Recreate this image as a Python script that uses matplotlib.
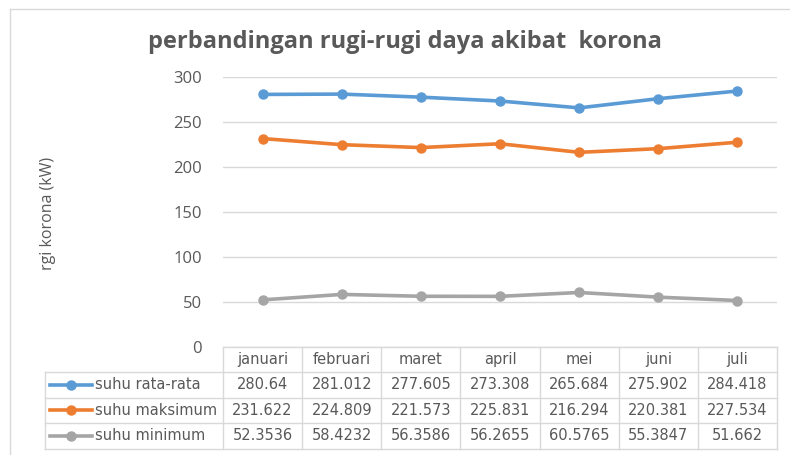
import matplotlib.pyplot as plt
from matplotlib.lines import Line2D

bulan = ['januari', 'februari', 'maret', 'april', 'mei', 'juni', 'juli']
rata = [280.64, 281.012, 277.605, 273.308, 265.684, 275.902, 284.418]
maks = [231.622, 224.809, 221.573, 225.831, 216.294, 220.381, 227.534]
mini = [52.3536, 58.4232, 56.3586, 56.2655, 60.5765, 55.3847, 51.662]
rata_txt = ['280.64', '281.012', '277.605', '273.308', '265.684', '275.902', '284.418']
maks_txt = ['231.622', '224.809', '221.573', '225.831', '216.294', '220.381', '227.534']
mini_txt = ['52.3536', '58.4232', '56.3586', '56.2655', '60.5765', '55.3847', '51.662']
nama = ['suhu rata-rata', 'suhu maksimum', 'suhu minimum']
warna = ['#5B9BD5', '#ED7D31', '#A5A5A5']

plt.rcParams['font.family'] = ['Open Sans', 'DejaVu Sans']
txtc = '#595959'
gridc = '#D9D9D9'
tabfont = 'DejaVu Sans'

W, H = 790, 455
fig = plt.figure(figsize=(W / 100, H / 100), dpi=100)

def fx(x):
    return x / W

def fy(y):
    return 1 - y / H

# chart border (left and top edges visible)
fig.add_artist(Line2D([fx(10), fx(10)], [fy(9), fy(455)], color=gridc, lw=1))
fig.add_artist(Line2D([fx(10), fx(790)], [fy(9), fy(9)], color=gridc, lw=1))

x0, x1, ytop, ybot = 223, 777, 77, 347
ax = fig.add_axes([fx(x0), fy(ybot), fx(x1) - fx(x0), fy(ytop) - fy(ybot)])
xs = range(len(bulan))
for vals, c in zip([rata, maks, mini], warna):
    ax.plot(xs, vals, color=c, lw=2.6, marker='o', ms=6.5, clip_on=False)
ax.set_xlim(-0.5, len(bulan) - 0.5)
ax.set_ylim(0, 300)
ax.set_yticks(range(0, 301, 50))
ax.set_xticks([])
ax.grid(axis='y', color=gridc, lw=1)
ax.set_axisbelow(True)
for s in ax.spines.values():
    s.set_visible(False)
ax.tick_params(axis='y', length=0, pad=15, labelsize=12, labelcolor=txtc)
fig.text(fx(48), fy(213), 'rgi korona (kW)', rotation=90, ha='center', va='center',
         fontsize=11.5, color=txtc)

fig.text(fx(405), fy(42), 'perbandingan rugi-rugi daya akibat  korona', ha='center',
         va='center', fontsize=17, fontweight='bold', color=txtc)

# data table
rows_y = [347, 372, 397.5, 423, 449]
colw = (x1 - x0) / len(bulan)
cols_x = [x0 + i * colw for i in range(len(bulan) + 1)]
lx = 45
tc = '#D9D9D9'
# horizontal lines
fig.add_artist(Line2D([fx(x0), fx(x1)], [fy(rows_y[0])] * 2, color=tc, lw=1))
for y in rows_y[1:]:
    fig.add_artist(Line2D([fx(lx), fx(x1)], [fy(y)] * 2, color=tc, lw=1))
# vertical lines
for x in cols_x:
    fig.add_artist(Line2D([fx(x)] * 2, [fy(rows_y[0]), fy(rows_y[-1])], color=tc, lw=1))
fig.add_artist(Line2D([fx(lx)] * 2, [fy(rows_y[1]), fy(rows_y[-1])], color=tc, lw=1))

for i, b in enumerate(bulan):
    fig.text(fx(cols_x[i] + colw / 2), fy((rows_y[0] + rows_y[1]) / 2), b,
             ha='center', va='center', fontsize=10.5, color=txtc, family=tabfont)
for r, (lbl, c, txts) in enumerate(zip(nama, warna, [rata_txt, maks_txt, mini_txt])):
    yc = (rows_y[r + 1] + rows_y[r + 2]) / 2
    fig.add_artist(Line2D([fx(50), fx(92)], [fy(yc)] * 2, color=c, lw=2.6))
    fig.add_artist(Line2D([fx(71)], [fy(yc)], color=c, marker='o', ms=6.5, lw=0))
    fig.text(fx(95), fy(yc), lbl, ha='left', va='center', fontsize=10.5, color=txtc,
             family=tabfont)
    for i, t in enumerate(txts):
        fig.text(fx(cols_x[i] + colw / 2), fy(yc), t, ha='center', va='center',
                 fontsize=10.5, color=txtc, family=tabfont)

fig.savefig('out.png', dpi=100)
